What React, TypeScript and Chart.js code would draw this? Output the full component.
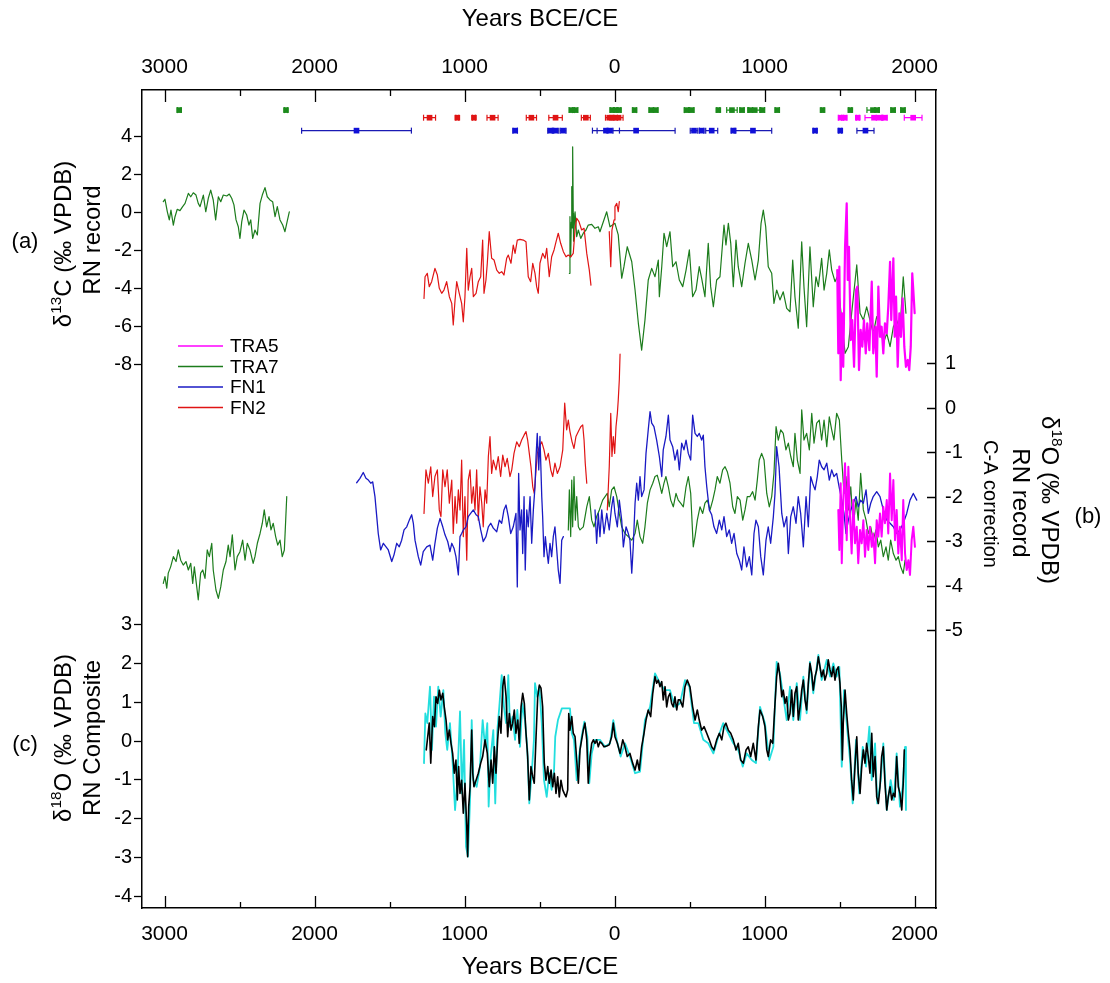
import React, { useEffect, useRef } from 'react';
import { Chart, registerables } from 'chart.js';

Chart.register(...registerables);

type P = [number, number | null];

const FONT = '"Liberation Sans", Arial, Helvetica, sans-serif';

// ---------- axes ----------
const X_TICKS = [-3000, -2500, -2000, -1500, -1000, -500, 0, 500, 1000, 1500, 2000];
const D13C_TICKS = [-8, -6, -4, -2, 0, 2, 4];
const D18O_TICKS = [-5, -4, -3, -2, -1, 0, 1];
const COMP_TICKS = [-4, -3, -2, -1, 0, 1, 2, 3];

// ---------- legend ----------
const SERIES_NAMES = ['TRA5', 'TRA7', 'FN1', 'FN2'];
const SERIES_COLORS = ['#ff00ff', '#1c7c1c', '#1a1ac4', '#e01414'];

// ---------- (a) d13C ----------
const TRA7_D13C_A: P[] = [[-3008,0.58],[-2997,0.71],[-2981,0.05],[-2968,-0.38],[-2957,0.14],[-2941,-0.65],[-2930,-0.21],[-2915,0.18],[-2897,0.11],[-2879,0.32],[-2863,0.49],[-2841,1.02],[-2825,0.84],[-2808,1.05],[-2790,0.93],[-2775,0.49],[-2763,0.32],[-2741,0.93],[-2725,0.05],[-2708,0.76],[-2692,1.19],[-2675,0.67],[-2659,-0.38],[-2641,0.84],[-2625,0.58],[-2608,0.93],[-2585,0.88],[-2568,0.98],[-2552,0.76],[-2537,0.41],[-2523,-0.38],[-2508,-0.74],[-2497,-1.35],[-2485,-0.47],[-2470,0.14],[-2452,-0.12],[-2437,-0.65],[-2425,-0.38],[-2412,-1.35],[-2397,-0.91],[-2381,-1.17],[-2363,0.49],[-2348,0.93],[-2330,1.32],[-2315,0.84],[-2297,0.67],[-2279,0.58],[-2263,-0.21],[-2248,0.32],[-2230,-0.38],[-2212,-0.65],[-2197,-1.0],[-2185,-0.56],[-2168,0.05]];
const TRA7_D13C_B: P[] = [[-301,-3.19],[-297,-0.21],[-294,-2.0],[-292,-2.32],[-288,-0.5],[-285,1.37],[-282,-0.8],[-279,3.47],[-275,-0.03],[-273,-1.5],[-270,-0.91],[-263,0.05],[-252,-1.26],[-241,-0.91],[-225,-1.35],[-208,-1.08],[-190,-0.91],[-175,-0.65],[-152,-0.61],[-130,-0.82],[-108,-0.74],[-97,-1.0],[-52,0.05],[-30,-0.74],[3,-0.56],[25,-1.17],[48,-3.45],[63,-2.84],[85,-1.79],[115,-2.58],[137,-4.07],[159,-5.82],[181,-7.23],[203,-5.65],[225,-3.54],[248,-2.93],[270,-3.37],[292,-2.49],[299,-4.42],[315,-2.84],[330,-1.08],[348,-1.79],[370,-1.0],[388,-2.84],[410,-2.58],[432,-3.54],[455,-3.89],[477,-3.02],[499,-1.96],[521,-4.42],[543,-4.07],[565,-2.84],[581,-3.45],[603,-4.42],[625,-1.61],[641,-3.89],[659,-4.95],[681,-3.54],[703,-3.37],[730,-0.65],[743,-1.7],[759,-0.56],[775,-1.61],[792,-3.89],[810,-1.44],[825,-2.84],[848,-3.89],[870,-2.66],[892,-1.61],[915,-2.49],[937,-3.54],[959,-2.49],[977,-0.56],[992,0.14],[1008,-0.74],[1025,-2.84],[1048,-3.19],[1063,-4.77],[1081,-4.07],[1103,-4.59],[1125,-4.16],[1148,-5.03],[1170,-5.21],[1188,-2.49],[1203,-4.42],[1225,-6.08],[1248,-1.53],[1263,-3.89],[1281,-6.0],[1303,-1.79],[1325,-4.95],[1343,-3.37],[1359,-3.89],[1381,-2.4],[1397,-4.07],[1415,-3.19],[1432,-1.96],[1448,-3.02],[1470,-3.63],[1485,-3.37],[1515,-5.65],[1537,-7.4],[1559,-7.05],[1581,-5.29],[1615,-2.75],[1637,-5.29],[1659,-5.65],[1681,-4.95],[1703,-5.65],[1725,-6.35],[1748,-5.47],[1770,-6.0],[1792,-6.87],[1815,-6.35],[1837,-7.05],[1859,-6.0],[1881,-5.65],[1903,-6.17],[1925,-3.37],[1943,-5.29]];
const FN2_D13C_A: P[] = [[-1270,-4.51],[-1263,-3.37],[-1248,-3.19],[-1235,-3.89],[-1219,-3.63],[-1197,-2.93],[-1181,-3.28],[-1168,-3.98],[-1152,-4.24],[-1137,-4.07],[-1119,-3.63],[-1101,-4.42],[-1085,-4.77],[-1075,-5.91],[-1063,-4.59],[-1052,-3.63],[-1035,-4.24],[-1019,-4.77],[-1008,-5.74],[-997,-4.42],[-985,-1.87],[-975,-4.07],[-963,-3.37],[-952,-2.93],[-941,-4.42],[-923,-4.24],[-908,-3.63],[-892,-3.37],[-879,-1.44],[-870,-4.24],[-857,-3.54],[-848,-2.66],[-835,-1.0],[-819,-2.4],[-803,-2.49],[-785,-3.02],[-768,-3.19],[-752,-3.1],[-737,-3.28],[-719,-2.4],[-708,-2.23],[-690,-2.66],[-675,-1.7],[-663,-2.14],[-648,-1.44],[-630,-1.4],[-608,-1.44],[-590,-1.53],[-575,-3.37],[-559,-3.63],[-545,-2.66],[-530,-3.19],[-519,-3.89],[-508,-4.24],[-497,-2.66],[-479,-2.14],[-463,-2.4],[-452,-1.87],[-435,-3.37],[-419,-2.32],[-403,-1.96],[-390,-1.53],[-375,-1.08],[-359,-1.61],[-341,-2.05],[-323,-2.32],[-308,-2.23],[-292,-2.32],[-275,-2.14],[-263,-0.91],[-252,-0.29],[-237,-0.47],[-219,-0.91],[-203,-0.82],[-185,-2.14],[-168,-3.02],[-157,-3.81]];
const FN2_D13C_B: P[] = [[-35,-1.0],[-25,-2.84],[-17,-0.91],[-3,-0.38],[3,0.32],[15,0.49],[25,0.05],[32,0.58]];
const TRA5_D13C: P[] = [[1485,-3.02],[1492,-7.4],[1499,-2.84],[1508,-8.81],[1517,-5.29],[1525,-8.11],[1537,-1.79],[1548,0.49],[1555,-3.54],[1563,-1.79],[1575,-6.7],[1585,-5.65],[1597,-8.11],[1610,-4.07],[1619,-3.89],[1630,-8.28],[1641,-6.17],[1652,-7.05],[1663,-5.65],[1675,-7.4],[1685,-5.82],[1699,-7.23],[1715,-3.63],[1725,-7.4],[1739,-6.0],[1748,-8.63],[1759,-3.89],[1770,-6.53],[1781,-6.0],[1792,-7.4],[1803,-5.82],[1815,-6.35],[1825,-4.95],[1837,-2.58],[1845,-5.65],[1859,-2.4],[1868,-6.53],[1877,-4.42],[1888,-8.11],[1899,-5.29],[1910,-6.53],[1921,-4.51],[1932,-7.05],[1943,-8.11],[1955,-7.75],[1965,-8.28],[1975,-7.05],[1985,-3.19],[1992,-4.07],[2001,-5.29]];

// ---------- (b) d18O (C-A correction) ----------
const TRA7_D18O_A: P[] = [[-3008,-3.94],[-2997,-3.79],[-2985,-4.05],[-2975,-3.71],[-2959,-3.57],[-2941,-3.34],[-2923,-3.45],[-2908,-3.19],[-2892,-3.42],[-2875,-3.53],[-2857,-3.45],[-2841,-3.64],[-2825,-3.49],[-2812,-3.94],[-2801,-3.57],[-2785,-4.02],[-2775,-4.31],[-2759,-3.71],[-2745,-3.64],[-2730,-3.83],[-2715,-3.19],[-2701,-3.34],[-2685,-3.04],[-2675,-3.64],[-2657,-4.09],[-2641,-4.28],[-2625,-4.02],[-2608,-3.64],[-2590,-3.45],[-2575,-3.08],[-2563,-3.34],[-2548,-2.85],[-2530,-3.64],[-2515,-3.34],[-2497,-3.23],[-2479,-2.97],[-2463,-3.42],[-2448,-3.04],[-2430,-3.19],[-2409,-3.49],[-2397,-3.34],[-2381,-3.04],[-2363,-2.82],[-2348,-2.59],[-2335,-2.29],[-2319,-2.67],[-2303,-2.44],[-2290,-2.74],[-2275,-2.59],[-2259,-2.89],[-2245,-3.08],[-2230,-2.97],[-2215,-3.34],[-2201,-3.19],[-2192,-2.52],[-2185,-1.99]];
const TRA7_D18O_B: P[] = [[-308,-2.74],[-301,-1.84],[-292,-2.89],[-285,-1.62],[-279,-2.67],[-270,-1.54],[-261,-2.52],[-252,-1.99],[-241,-2.67],[-230,-2.74],[-208,-2.67],[-185,-2.22],[-168,-1.99],[-152,-2.52],[-137,-2.67],[-119,-2.44],[-101,-2.29],[-79,-2.07],[-63,-1.99],[-48,-1.92],[-35,-2.22],[-19,-1.84],[-3,-1.77],[15,-1.99],[32,-2.37],[48,-2.67],[70,-2.82],[92,-2.89],[115,-2.97],[137,-2.82],[152,-2.52],[170,-2.89],[188,-3.04],[203,-2.67],[219,-2.14],[237,-1.84],[255,-1.69],[270,-1.54],[285,-1.51],[299,-1.69],[315,-1.92],[330,-1.69],[343,-1.54],[359,-1.77],[375,-2.07],[392,-2.22],[410,-1.92],[425,-2.07],[441,-2.14],[459,-2.22],[477,-1.77],[492,-1.54],[508,-1.92],[525,-3.12],[537,-2.89],[552,-2.52],[570,-2.22],[588,-2.37],[603,-2.14],[619,-2.07],[637,-2.29],[655,-2.07],[670,-1.84],[685,-1.54],[703,-1.69],[721,-1.39],[737,-1.32],[752,-1.43],[770,-1.69],[788,-2.22],[803,-2.37],[819,-1.99],[837,-2.07],[855,-2.52],[870,-2.29],[885,-1.99],[903,-1.99],[921,-1.88],[937,-2.07],[952,-1.62],[965,-1.17],[981,-1.02],[997,-1.17],[1015,-1.92],[1032,-2.22],[1048,-1.99],[1063,-1.47],[1077,-0.42],[1092,-0.72],[1108,-0.49],[1125,-0.57],[1143,-0.94],[1159,-0.79],[1175,-1.09],[1192,-1.32],[1203,-0.57],[1219,-1.17],[1237,-1.47],[1248,-0.04],[1263,-0.72],[1281,-0.57],[1299,-0.94],[1315,-0.12],[1330,-0.79],[1348,-0.34],[1365,-0.27],[1381,-0.72],[1397,-0.27],[1415,-0.87],[1432,-0.2],[1448,-0.49],[1463,-0.72],[1481,-0.12],[1499,-0.27],[1515,-1.17],[1530,-1.92],[1543,-1.54],[1559,-2.29],[1575,-1.77],[1592,-2.67],[1610,-2.07],[1625,-2.52],[1641,-1.47],[1659,-2.29],[1677,-2.52],[1692,-2.82],[1708,-2.67],[1725,-2.97],[1743,-2.74],[1759,-3.12],[1775,-2.97],[1792,-3.34],[1810,-3.12],[1825,-3.42],[1841,-2.97],[1859,-3.27],[1877,-3.42],[1892,-3.34],[1908,-3.57],[1925,-3.72],[1937,-3.42]];
const FN1_D18O_A: P[] = [[-1719,-1.68],[-1697,-1.58],[-1675,-1.45],[-1657,-1.58],[-1641,-1.62],[-1625,-1.69],[-1612,-1.66],[-1597,-1.99],[-1585,-2.44],[-1575,-2.82],[-1559,-3.19],[-1541,-3.04],[-1523,-3.12],[-1508,-3.19],[-1485,-3.45],[-1470,-3.3],[-1452,-3.04],[-1435,-3.12],[-1419,-2.97],[-1403,-2.74],[-1385,-2.67],[-1368,-2.52],[-1352,-2.4],[-1341,-2.59],[-1330,-2.97],[-1308,-3.34],[-1292,-3.53],[-1275,-3.23],[-1252,-3.12],[-1230,-3.08],[-1212,-3.42],[-1197,-3.04],[-1181,-2.7],[-1163,-2.48],[-1145,-2.67],[-1130,-2.85],[-1112,-3.0],[-1097,-3.23],[-1085,-3.04],[-1070,-3.15],[-1057,-3.34],[-1041,-3.75],[-1030,-2.89],[-1019,-2.82],[-1008,-2.74],[-990,-2.67],[-975,-2.44],[-959,-2.37],[-941,-2.29],[-923,-2.4],[-908,-2.44],[-892,-2.74],[-875,-3.0],[-857,-2.89],[-841,-2.67],[-825,-2.59],[-808,-2.7],[-785,-2.78],[-768,-2.52],[-752,-2.59],[-737,-2.29],[-723,-2.18],[-708,-2.44],[-692,-2.82],[-675,-2.67],[-657,-2.37],[-648,-4.02],[-639,-1.47],[-630,-2.74],[-619,-2.29],[-612,-3.27],[-603,-1.99],[-595,-3.64],[-585,-2.29],[-575,-2.67],[-563,-1.99],[-552,-3.04],[-541,-2.29],[-530,-1.77],[-523,-1.09],[-515,-0.57],[-505,-1.39],[-497,-0.64],[-485,-1.99],[-479,-2.44],[-470,-3.34],[-461,-2.89],[-452,-3.19],[-441,-3.49],[-430,-3.04],[-419,-3.34],[-408,-2.89],[-397,-2.67],[-385,-3.19],[-375,-3.64],[-363,-3.94],[-352,-2.97],[-341,-2.89]];
const FN1_D18O_B: P[] = [[-130,-2.29],[-119,-3.04],[-108,-2.37],[-97,-2.89],[-85,-2.29],[-70,-2.82],[-52,-2.37],[-35,-2.74],[-19,-2.22],[-8,-1.99],[3,-2.37],[19,-2.67],[32,-2.07],[48,-2.52],[59,-3.12],[77,-2.67],[92,-2.82],[103,-2.97],[115,-3.71],[125,-3.12],[137,-2.14],[148,-1.69],[159,-2.07],[170,-1.54],[181,-1.99],[197,-1.84],[210,-1.02],[225,-0.49],[237,-0.08],[248,-0.34],[263,-0.42],[281,-0.72],[299,-1.09],[315,-1.54],[325,-0.94],[343,-0.64],[359,-0.16],[370,-0.72],[388,-0.87],[403,-1.17],[419,-0.94],[432,-1.39],[448,-0.79],[463,-0.94],[477,-0.72],[492,-1.02],[508,-1.17],[521,-0.16],[537,-0.57],[552,-0.64],[565,-0.57],[581,-0.72],[592,-0.61],[603,-1.32],[615,-1.77],[632,-2.29],[648,-2.4],[663,-2.67],[681,-2.82],[699,-2.52],[715,-2.74],[730,-2.44],[748,-2.89],[765,-2.74],[781,-3.04],[797,-2.82],[815,-3.27],[832,-3.42],[848,-3.64],[863,-3.12],[881,-3.57],[899,-3.34],[915,-3.75],[930,-2.82],[943,-2.52],[959,-2.67],[975,-3.34],[992,-3.75],[1010,-2.97],[1025,-2.67],[1041,-3.04],[1059,-2.44],[1070,-1.92],[1081,-0.87],[1097,-1.32],[1115,-2.37],[1130,-2.67],[1148,-2.44],[1159,-3.27],[1175,-2.44],[1192,-2.22],[1210,-2.59],[1225,-1.99],[1241,-2.37],[1259,-3.12],[1277,-1.99],[1292,-2.67],[1308,-1.54],[1321,-1.69],[1337,-1.84],[1352,-1.54],[1365,-1.17],[1381,-1.32],[1397,-1.39],[1415,-1.24],[1432,-1.62],[1448,-1.39],[1463,-1.54],[1481,-1.47],[1499,-1.8],[1515,-2.07],[1530,-2.37],[1543,-2.82],[1559,-2.52],[1575,-2.29],[1592,-2.14],[1610,-1.99],[1625,-2.22],[1641,-2.07],[1659,-2.14],[1677,-1.84],[1692,-2.37],[1708,-2.14],[1725,-1.99],[1748,-1.88],[1770,-1.99],[1792,-2.29],[1815,-2.52],[1837,-2.59],[1859,-2.67],[1881,-2.82],[1903,-2.74],[1925,-2.59],[1948,-2.37],[1970,-2.07],[1992,-1.92],[2015,-2.07]];
const FN2_D18O_A: P[] = [[-1270,-2.37],[-1257,-1.39],[-1241,-1.69],[-1225,-1.32],[-1212,-1.99],[-1197,-1.54],[-1181,-1.39],[-1168,-2.29],[-1157,-2.44],[-1145,-1.39],[-1130,-1.77],[-1115,-1.39],[-1101,-2.14],[-1085,-1.62],[-1075,-2.82],[-1063,-1.99],[-1052,-2.59],[-1041,-1.84],[-1030,-2.29],[-1019,-1.17],[-1008,-2.89],[-997,-1.99],[-985,-3.42],[-975,-1.62],[-963,-1.39],[-952,-2.14],[-941,-1.77],[-930,-2.29],[-919,-1.39],[-908,-2.52],[-897,-1.77],[-885,-2.14],[-875,-2.67],[-863,-1.84],[-852,-2.14],[-841,-1.09],[-830,-0.64],[-819,-1.47],[-808,-1.17],[-790,-1.39],[-775,-1.09],[-759,-1.54],[-745,-1.06],[-730,-1.32],[-715,-1.13],[-697,-1.54],[-685,-1.39],[-670,-1.02],[-652,-0.76],[-635,-0.87],[-619,-0.72],[-603,-0.61],[-590,-0.53],[-579,-0.72],[-568,-1.02],[-557,-1.32],[-545,-1.77],[-535,-1.92],[-523,-1.39],[-515,-1.02],[-501,-0.87],[-485,-0.76],[-470,-0.94],[-457,-1.17],[-441,-1.02],[-425,-1.39],[-412,-1.54],[-397,-1.24],[-381,-1.47],[-363,-1.32],[-345,-0.94],[-332,0.11],[-319,-0.49],[-308,-0.27],[-297,-0.53],[-283,-0.76],[-270,-0.91],[-257,-0.64],[-241,-0.53],[-225,-0.42],[-212,-0.38],[-203,-0.72],[-195,-1.24],[-185,-1.69]];
const FN2_D18O_B: P[] = [[-48,-2.29],[-35,-1.32],[-25,-0.12],[-17,-1.09],[-8,-0.64],[1,-1.02],[10,-0.42],[19,-0.12],[25,0.18],[32,0.63],[37,1.21]];
const TRA5_D18O: P[] = [[1492,-2.29],[1499,-3.19],[1508,-1.69],[1515,-3.49],[1525,-2.07],[1537,-1.24],[1548,-2.97],[1559,-1.32],[1570,-2.44],[1581,-3.27],[1592,-2.07],[1603,-3.04],[1615,-2.67],[1625,-3.49],[1637,-2.74],[1648,-3.04],[1659,-2.52],[1670,-3.34],[1681,-2.74],[1692,-3.19],[1703,-2.67],[1715,-3.12],[1725,-2.82],[1737,-3.49],[1748,-2.52],[1759,-2.89],[1770,-2.37],[1781,-2.89],[1792,-2.22],[1803,-2.59],[1815,-2.07],[1825,-2.82],[1837,-1.47],[1848,-2.52],[1859,-1.62],[1870,-2.97],[1881,-2.29],[1892,-3.27],[1903,-2.67],[1915,-3.42],[1925,-2.07],[1937,-3.27],[1948,-3.64],[1959,-3.42],[1970,-3.75],[1981,-2.97],[1992,-2.67],[2003,-3.12]];

// ---------- (c) composite ----------
const COMP_BLACK: P[] = [[-1255,-0.23],[-1235,0.46],[-1225,-0.57],[-1212,0.63],[-1201,0.37],[-1190,1.14],[-1179,0.97],[-1168,1.31],[-1157,1.06],[-1145,1.23],[-1135,0.88],[-1123,0.54],[-1112,0.03],[-1101,0.28],[-1090,-0.06],[-1079,-0.32],[-1068,-0.83],[-1057,-0.49],[-1048,-1.52],[-1039,-0.66],[-1030,-1.35],[-1019,-1.01],[-1008,-1.86],[-997,-1.09],[-985,-2.21],[-979,-2.98],[-972,-1.69],[-963,-1.18],[-952,0.28],[-945,-0.83],[-937,-1.18],[-923,-1.01],[-908,-0.83],[-892,-0.57],[-879,-0.4],[-863,0.03],[-848,-0.32],[-835,-1.18],[-823,-0.49],[-812,-1.09],[-801,-0.15],[-790,-0.83],[-779,0.03],[-768,0.63],[-757,0.2],[-745,1.4],[-735,1.66],[-723,1.14],[-712,0.11],[-701,0.71],[-690,0.28],[-679,0.46],[-668,0.8],[-657,0.2],[-645,0.54],[-635,-0.06],[-623,0.88],[-612,1.23],[-601,0.97],[-590,0.2],[-579,-0.4],[-568,-1.52],[-557,-0.66],[-545,-0.92],[-535,-1.09],[-523,0.11],[-512,1.14],[-501,1.44],[-490,1.36],[-479,0.88],[-468,-0.57],[-457,-1.01],[-445,-0.66],[-435,-1.09],[-423,-0.75],[-412,-1.18],[-401,-0.83],[-390,-1.35],[-379,-0.92],[-368,-1.44],[-357,-1.01],[-345,-1.26],[-335,-1.35],[-323,-1.44],[-312,-1.26],[-305,0.71],[-297,0.28],[-285,0.63],[-275,0.2],[-263,0.11],[-252,-0.49],[-241,-1.09],[-230,-0.23],[-219,0.03],[-208,0.28],[-197,0.46],[-185,0.03],[-175,-1.09],[-163,-0.4],[-152,-0.06],[-141,0.03],[-130,-0.06],[-119,0.03],[-108,-0.15],[-97,-0.02],[-85,-0.06],[-70,-0.15],[-52,-0.13],[-35,-0.1],[-19,0.11],[-8,0.46],[3,0.11],[19,-0.06],[37,-0.32],[55,0.03],[70,-0.15],[85,-0.4],[103,-0.32],[121,-0.57],[137,-0.75],[152,-0.49],[165,-0.75],[181,-0.15],[197,0.2],[210,0.54],[225,0.8],[241,0.63],[255,1.23],[270,1.66],[281,1.49],[292,1.57],[303,1.4],[315,1.53],[325,1.06],[337,1.4],[348,0.88],[359,1.14],[370,1.23],[381,0.97],[392,0.88],[403,1.14],[415,0.8],[425,1.06],[437,1.06],[455,0.88],[470,1.4],[485,1.57],[503,1.4],[521,0.88],[537,0.54],[552,0.8],[565,0.54],[581,0.28],[597,0.37],[615,0.2],[632,0.03],[648,-0.15],[663,-0.23],[681,0.03],[699,0.2],[715,0.03],[730,0.37],[743,0.46],[759,0.28],[775,0.2],[792,0.03],[810,-0.23],[825,-0.06],[841,-0.49],[859,-0.57],[877,-0.23],[892,-0.15],[908,-0.4],[925,-0.06],[943,-0.49],[959,0.37],[970,0.8],[988,0.63],[1003,0.37],[1015,-0.23],[1025,-0.4],[1041,0.03],[1055,-0.06],[1070,0.97],[1081,1.66],[1092,2.0],[1103,1.66],[1115,1.14],[1125,1.31],[1137,0.97],[1148,1.14],[1159,0.54],[1170,0.71],[1181,1.31],[1192,0.63],[1203,1.23],[1215,1.4],[1225,0.54],[1237,0.88],[1248,1.31],[1259,1.57],[1270,1.06],[1281,0.8],[1292,1.49],[1303,2.0],[1315,1.74],[1325,1.31],[1337,1.66],[1348,1.83],[1359,2.17],[1370,1.91],[1381,1.66],[1392,1.83],[1403,1.57],[1415,1.74],[1425,2.09],[1437,1.83],[1448,1.66],[1459,1.91],[1470,1.57],[1481,1.83],[1492,1.91],[1503,1.49],[1512,0.88],[1519,-0.49],[1525,0.46],[1537,1.31],[1548,0.71],[1559,0.2],[1570,-0.23],[1581,-1.01],[1592,-1.52],[1603,-0.66],[1615,0.11],[1625,-0.83],[1637,-1.35],[1648,-0.66],[1659,-0.23],[1670,-0.57],[1681,-0.06],[1692,-0.4],[1703,-0.83],[1715,0.2],[1725,-0.92],[1737,-0.4],[1748,-1.44],[1759,-1.61],[1770,-1.18],[1781,-0.4],[1792,-0.15],[1803,-1.09],[1815,-1.78],[1825,-1.44],[1837,-1.18],[1848,-1.52],[1859,-1.35],[1870,-1.44],[1881,-0.4],[1892,-1.18],[1903,-1.35],[1915,-1.78],[1925,-1.09],[1932,-0.23]];
const COMP_CYAN: P[] = [[-1270,-0.57],[-1261,0.71],[-1248,0.46],[-1230,1.4],[-1217,-0.23],[-1203,1.14],[-1190,0.37],[-1175,1.4],[-1159,0.63],[-1141,1.31],[-1128,0.2],[-1115,-0.23],[-1097,0.46],[-1079,-0.57],[-1063,-1.78],[-1048,-1.01],[-1030,0.76],[-1017,-1.35],[-1003,0.03],[-990,-2.72],[-977,-2.98],[-963,-1.52],[-952,0.54],[-941,-1.01],[-919,-1.18],[-897,-0.66],[-879,0.54],[-863,-0.15],[-848,0.46],[-839,-1.69],[-825,-0.4],[-808,0.28],[-795,-1.61],[-781,0.28],[-768,0.88],[-752,1.7],[-737,0.88],[-723,0.46],[-708,1.7],[-697,0.37],[-679,0.63],[-663,0.03],[-648,0.8],[-630,-0.15],[-615,0.97],[-597,0.54],[-581,-0.23],[-568,-1.61],[-552,-0.83],[-537,0.03],[-530,1.49],[-515,1.14],[-501,1.4],[-485,0.46],[-470,-1.01],[-452,-1.44],[-435,-0.83],[-419,-1.26],[-403,-0.75],[-395,0.11],[-377,0.54],[-351,0.84],[-297,0.84],[-285,0.2],[-270,0.03],[-252,-1.01],[-237,-0.4],[-219,0.11],[-201,0.5],[-181,0.11],[-168,-1.09],[-152,-0.32],[-130,0.03],[-97,0.03],[-63,-0.15],[-30,-0.06],[-8,0.54],[15,0.03],[41,-0.4],[70,-0.06],[103,-0.4],[137,-0.83],[170,-0.79],[203,0.54],[237,0.88],[270,1.74],[303,1.49],[337,1.31],[370,1.31],[403,0.88],[437,0.97],[470,1.57],[499,1.4],[530,0.46],[559,0.46],[592,0.03],[625,-0.06],[659,-0.32],[692,0.11],[725,0.46],[759,0.2],[792,-0.06],[825,-0.23],[855,-0.66],[881,-0.32],[915,-0.49],[943,-0.57],[970,0.88],[1003,0.46],[1032,-0.49],[1059,-0.15],[1081,2.04],[1103,1.74],[1125,1.14],[1148,0.54],[1170,1.4],[1192,0.54],[1215,1.49],[1237,0.54],[1259,1.66],[1281,0.71],[1303,2.04],[1325,1.23],[1359,2.22],[1381,1.57],[1415,2.09],[1437,1.66],[1459,2.0],[1481,1.66],[1499,1.91],[1515,-0.66],[1530,1.31],[1548,0.46],[1570,-0.49],[1588,-1.61],[1610,0.03],[1632,-1.35],[1655,-0.15],[1677,-0.66],[1699,0.37],[1715,-1.01],[1737,-0.06],[1752,-1.61],[1775,-1.01],[1792,-0.06],[1815,-1.78],[1841,-1.01],[1863,-1.52],[1881,-0.32],[1903,-1.69],[1921,-1.18],[1937,-0.15],[1943,-1.78]];

// ---------- age control points (year, +/- error) ----------
const TRA7_AGES: [number, number][] = [[-2902,12],[-2190,10],[-285,18],[-262,18],[-15,14],[8,14],[30,12],[134,12],[245,14],[275,14],[480,14],[515,14],[692,10],[783,35],[850,14],[905,16],[935,40],[985,16],[1085,14],[1387,10],[1572,10],[1723,40],[1750,14],[1857,14],[1923,14]];
const FN2_AGES: [number, number][] = [[-1233,40],[-1048,10],[-937,10],[-813,37],[-554,34],[-393,45],[-191,30],[-35,25],[-5,25],[27,30]];
const TRA5_AGES: [number, number][] = [[1510,18],[1532,18],[1622,10],[1730,60],[1765,20],[1800,18],[1991,59]];
const FN1_AGES: [number, number][] = [[-1720,366],[-662,15],[-425,20],[-395,20],[-343,20],[-57,90],[-30,20],[144,260],[530,25],[581,15],[648,40],[793,15],[923,125],[1337,12],[1505,10],[1673,57]];
// row levels for the age rows (in d13C axis units)
const ROW_TRA7 = 5.4;
const ROW_FN2 = 5.0;
const ROW_FN1 = 4.32;

// ---------- helpers ----------
const toXY = (arr: P[]) => arr.map(([x, y]) => ({ x, y }));
const joinGap = (a: P[], b: P[]) => [...toXY(a), { x: (a[a.length - 1][0] + b[0][0]) / 2, y: null }, ...toXY(b)];

function lineDS(data: any[], color: string, width: number, yAxisID: string) {
  return {
    type: 'line', data, borderColor: color, backgroundColor: color, borderWidth: width,
    pointRadius: 0, pointHoverRadius: 0, fill: false, tension: 0, spanGaps: false,
    borderJoinStyle: 'round', borderCapStyle: 'round', xAxisID: 'x', yAxisID,
  };
}
function errDS(ages: [number, number][], row: number, color: string) {
  const data: any[] = [];
  ages.forEach(([a, e]) => { data.push({ x: a - e, y: row }, { x: a + e, y: row }, { x: a, y: null }); });
  return {
    type: 'line', data, borderColor: color, borderWidth: 1.2, pointRadius: 3, pointStyle: 'line',
    pointRotation: 90, pointBorderColor: color, pointBorderWidth: 1.2, pointBackgroundColor: color,
    fill: false, spanGaps: false, xAxisID: 'x', yAxisID: 'y1',
  };
}
function markDS(ages: [number, number][], row: number, color: string) {
  return {
    type: 'line', data: ages.map(([a]) => ({ x: a, y: row })), showLine: false, pointStyle: 'rect',
    pointRadius: 4, pointBackgroundColor: color, pointBorderColor: color, pointBorderWidth: 0,
    xAxisID: 'x', yAxisID: 'y1',
  };
}

type Part = { t: string; sup?: boolean };
function drawRich(ctx: CanvasRenderingContext2D, parts: Part[], cx: number, cy: number, size: number, rot: number) {
  ctx.save();
  ctx.translate(cx, cy);
  ctx.rotate(rot);
  const supSize = size * 0.64;
  let total = 0;
  const widths = parts.map((p) => {
    ctx.font = `${p.sup ? supSize : size}px ${FONT}`;
    const w = ctx.measureText(p.t).width;
    total += w;
    return w;
  });
  let x = -total / 2;
  ctx.textAlign = 'left';
  ctx.textBaseline = 'alphabetic';
  ctx.fillStyle = '#000';
  parts.forEach((p, i) => {
    ctx.font = `${p.sup ? supSize : size}px ${FONT}`;
    ctx.fillText(p.t, x, size * 0.36 + (p.sup ? -size * 0.42 : 0));
    x += widths[i];
  });
  ctx.restore();
}

const decorPlugin = {
  id: 'decor',
  afterDraw(chart: any) {
    const { ctx, chartArea, scales } = chart;
    const { top, bottom, left, right } = chartArea;
    ctx.save();
    ctx.strokeStyle = '#000';
    ctx.lineWidth = 1.3;
    ctx.beginPath();
    X_TICKS.forEach((v) => {
      const px = Math.round(scales.x.getPixelForValue(v)) + 0.5;
      const len = v % 1000 === 0 ? 12 : 6;
      ctx.moveTo(px, bottom); ctx.lineTo(px, bottom - len);
      ctx.moveTo(px, top); ctx.lineTo(px, top + len);
    });
    D18O_TICKS.forEach((v) => {
      const py = Math.round(scales.y2.getPixelForValue(v)) + 0.5;
      ctx.moveTo(right, py); ctx.lineTo(right - 9, py);
    });
    ctx.stroke();

    // composite axis tick labels (left, lower block)
    ctx.fillStyle = '#000';
    ctx.font = `20px ${FONT}`;
    ctx.textAlign = 'right';
    ctx.textBaseline = 'middle';
    COMP_TICKS.forEach((v) => {
      ctx.fillText(String(v), left - 10, scales.y3.getPixelForValue(v));
    });

    // legend
    ctx.font = `19px ${FONT}`;
    ctx.textAlign = 'left';
    ctx.textBaseline = 'middle';
    const rows = [346, 366.5, 387, 407.5];
    SERIES_NAMES.forEach((name, i) => {
      ctx.strokeStyle = SERIES_COLORS[i];
      ctx.lineWidth = 1.3;
      ctx.beginPath();
      ctx.moveTo(178, rows[i]); ctx.lineTo(223, rows[i]);
      ctx.stroke();
      ctx.fillStyle = '#000';
      ctx.fillText(name, 230, rows[i] + 1);
    });

    // axis titles
    ctx.fillStyle = '#000';
    ctx.textAlign = 'center';
    ctx.textBaseline = 'middle';
    ctx.font = `24px ${FONT}`;
    ctx.fillText('Years BCE/CE', 540, 19);
    ctx.fillText('Years BCE/CE', 540, 967);
    ctx.font = `22px ${FONT}`;
    ctx.fillText('(a)', 25, 242);
    ctx.fillText('(c)', 25, 745);
    ctx.fillText('(b)', 1088, 517);
    ctx.restore();

    const L = -Math.PI / 2;
    const R = Math.PI / 2;
    drawRich(ctx, [{ t: 'δ' }, { t: '13', sup: true }, { t: 'C (‰ VPDB)' }], 62, 244, 24, L);
    drawRich(ctx, [{ t: 'RN record' }], 91, 240, 24, L);
    drawRich(ctx, [{ t: 'δ' }, { t: '18', sup: true }, { t: 'O (‰ VPDB)' }], 62, 738, 24, L);
    drawRich(ctx, [{ t: 'RN Composite' }], 91, 738, 24, L);
    drawRich(ctx, [{ t: 'C-A correction' }], 991, 504, 20, R);
    drawRich(ctx, [{ t: 'RN record' }], 1022, 503, 24, R);
    drawRich(ctx, [{ t: 'δ' }, { t: '18', sup: true }, { t: 'O (‰ VPDB)' }], 1051, 500, 24, R);
  },
};

export default function App() {
  const ref = useRef<HTMLCanvasElement | null>(null);
  useEffect(() => {
    if (!ref.current) return;
    Chart.defaults.font.family = FONT;
    const tickFont = { size: 20, family: FONT };
    const xTickFont = { size: 21, family: FONT };
    const datasets: any[] = [
      markDS(TRA7_AGES, ROW_TRA7, '#1c8a1c'),
      markDS(FN2_AGES, ROW_FN2, '#e01414'),
      markDS(TRA5_AGES, ROW_FN2, '#ff00ff'),
      markDS(FN1_AGES, ROW_FN1, '#1010d8'),
      errDS(TRA7_AGES, ROW_TRA7, '#1c8a1c'),
      errDS(FN2_AGES, ROW_FN2, '#e01414'),
      errDS(TRA5_AGES, ROW_FN2, '#ff00ff'),
      errDS(FN1_AGES, ROW_FN1, '#1a1ab4'),
      lineDS(toXY(TRA5_D13C), '#ff00ff', 2.2, 'y1'),
      lineDS(joinGap(FN2_D13C_A, FN2_D13C_B), '#e01414', 1.2, 'y1'),
      lineDS(joinGap(TRA7_D13C_A, TRA7_D13C_B), '#1c7c1c', 1.2, 'y1'),
      lineDS(toXY(TRA5_D18O), '#ff00ff', 2.0, 'y2'),
      lineDS(joinGap(FN1_D18O_A, FN1_D18O_B), '#1a1ac4', 1.3, 'y2'),
      lineDS(joinGap(FN2_D18O_A, FN2_D18O_B), '#e01414', 1.2, 'y2'),
      lineDS(joinGap(TRA7_D18O_A, TRA7_D18O_B), '#1c7c1c', 1.2, 'y2'),
      lineDS(toXY(COMP_BLACK), '#000000', 1.6, 'y3'),
      lineDS(toXY(COMP_CYAN), '#22dede', 1.8, 'y3'),
    ];
    const xCommon = {
      type: 'linear', min: -3150, max: 2143.3,
      afterBuildTicks: (s: any) => { s.ticks = X_TICKS.map((v) => ({ value: v })); },
      grid: { display: true, drawOnChartArea: false, drawTicks: false },
      border: { display: true, color: '#000', width: 1.5 },
    };
    const xLabel = (v: any) => (Number(v) % 1000 === 0 ? String(Math.abs(Number(v))) : '');
    const chart = new Chart(ref.current, {
      type: 'line',
      data: { datasets },
      options: {
        responsive: false,
        animation: false,
        devicePixelRatio: 1,
        events: [],
        layout: { padding: 0 },
        plugins: { legend: { display: false }, tooltip: { enabled: false }, title: { display: false } },
        scales: {
          x: {
            ...xCommon, position: 'bottom',
            ticks: { font: xTickFont, color: '#000', padding: 14, maxRotation: 0, autoSkip: false, callback: xLabel },
            afterFit: (s: any) => { s.height = 75; },
          },
          x2: {
            ...xCommon, position: 'top',
            ticks: { font: xTickFont, color: '#000', padding: 10, maxRotation: 0, autoSkip: false, callback: xLabel },
            afterFit: (s: any) => { s.height = 90; },
          },
          y1: {
            type: 'linear', position: 'left', weight: 1, min: -36.59, max: 6.458,
            afterBuildTicks: (s: any) => { s.ticks = D13C_TICKS.map((v) => ({ value: v })); },
            ticks: { font: tickFont, color: '#000', padding: 2, autoSkip: false },
            grid: { drawOnChartArea: false, drawTicks: true, tickLength: 8, tickColor: '#000', tickWidth: 1.3 },
            border: { display: true, color: '#000', width: 1.5 },
            afterFit: (s: any) => { s.width = 142; },
          },
          y3: {
            type: 'linear', position: 'left', weight: 0, min: -4.304, max: 16.778,
            afterBuildTicks: (s: any) => { s.ticks = COMP_TICKS.map((v) => ({ value: v })); },
            ticks: { font: tickFont, color: '#000', padding: 2, autoSkip: false },
            grid: { drawOnChartArea: false, drawTicks: true, tickLength: 8, tickColor: '#000', tickWidth: 1.3 },
            border: { display: false },
            afterFit: (s: any) => { s.width = 0; },
          },
          y2: {
            type: 'linear', position: 'right', min: -11.236, max: 7.146,
            afterBuildTicks: (s: any) => { s.ticks = D18O_TICKS.map((v) => ({ value: v })); },
            ticks: { font: tickFont, color: '#000', padding: 9, autoSkip: false },
            grid: { drawOnChartArea: false, drawTicks: false },
            border: { display: true, color: '#000', width: 1.5 },
            afterFit: (s: any) => { s.width = 174; },
          },
        },
      } as any,
      plugins: [decorPlugin],
    } as any);
    return () => chart.destroy();
  }, []);
  return (
    <div style={{ position: 'absolute', left: 0, top: 0, width: 1110, height: 983, background: '#fff' }}>
      <canvas ref={ref} width={1110} height={983} style={{ display: 'block' }} />
    </div>
  );
}
